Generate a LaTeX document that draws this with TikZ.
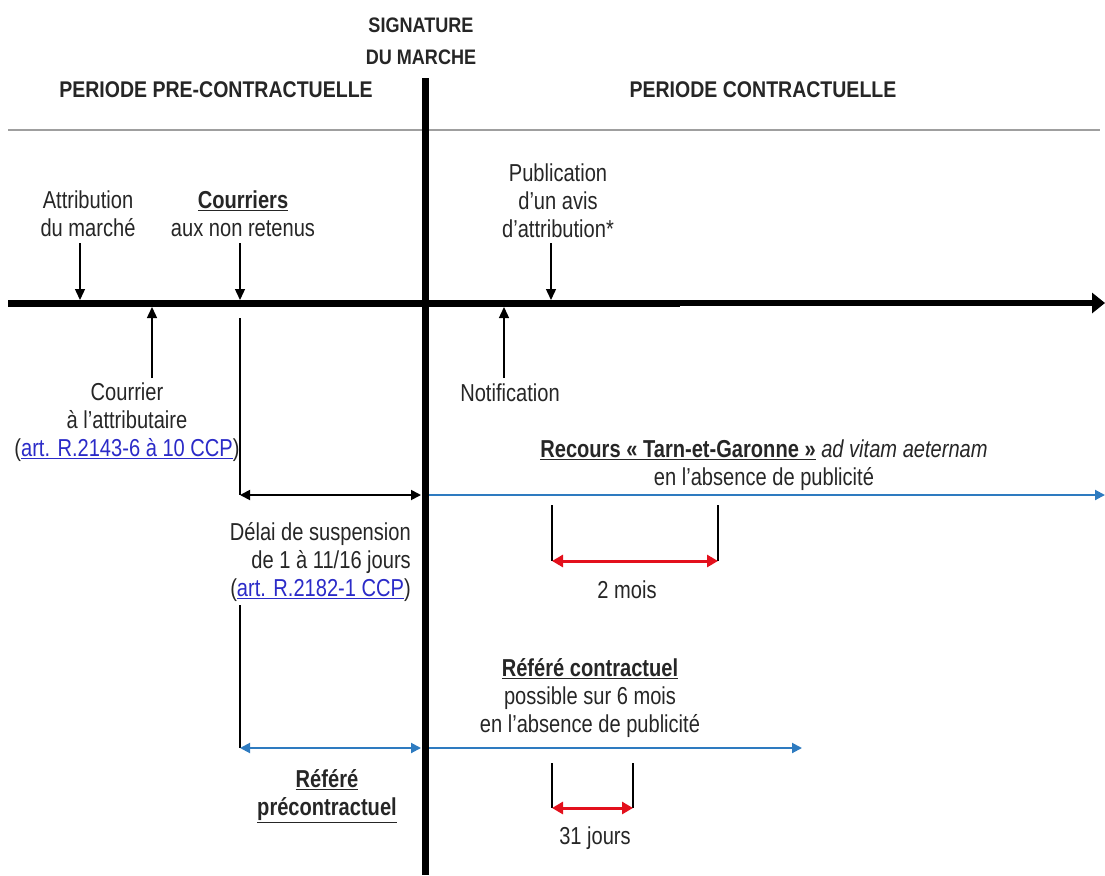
\documentclass[tikz,border=0pt]{standalone}
\usepackage{fontspec}
\setmainfont{Liberation Sans}[FakeStretch=0.82]
\newfontfamily\headfont{Liberation Sans}[FakeStretch=0.86]
\usetikzlibrary{arrows.meta}
\definecolor{linkblue}{HTML}{2B2BC8}
\definecolor{spanblue}{HTML}{2E7BC0}
\definecolor{spanred}{HTML}{E3101C}
\definecolor{ink}{HTML}{262626}
\newcommand{\artref}[1]{(\textcolor{linkblue}{\underline{#1}})}

\begin{document}
\begin{tikzpicture}[x=1pt,y=-1pt,
  lbl/.style={font=\fontsize{24.5}{28}\selectfont, align=center, inner sep=0pt, text=ink},
  head/.style={font=\headfont\bfseries\fontsize{21}{32}\selectfont, align=center, inner sep=0pt, text=ink},
  period/.style={head, font=\headfont\bfseries\fontsize{22.7}{32}\selectfont},
  tick/.style={line width=1.4pt, -{Triangle[length=11pt,width=10pt]}},
  guide/.style={line width=1.4pt},
  blackspan/.style={line width=1.8pt, {Triangle[length=10pt,width=10pt]}-{Triangle[length=10pt,width=10pt]}},
  bluespan/.style={spanblue, line width=2pt, {Triangle[length=10pt,width=10pt]}-{Triangle[length=10pt,width=10pt]}},
  blueray/.style={spanblue, line width=2pt, -{Triangle[length=10pt,width=10pt]}},
  redspan/.style={spanred, line width=3pt, {Triangle[length=11pt,width=12pt]}-{Triangle[length=11pt,width=12pt]}},
]
\useasboundingbox (0,0) rectangle (1105,875);

% headings
\node[head] (sig) at (421,41) {SIGNATURE\\DU MARCHE};
\node[period] (pre) at (216,90) {PERIODE PRE-CONTRACTUELLE};
\node[period] (post) at (763,90) {PERIODE CONTRACTUELLE};

% separator under the headings
\coordinate (sepL) at (8,130);
\coordinate (sepR) at (1100,130);
\draw[gray!75, line width=1.2pt] (sepL) -- (sepR);

% time axis
\coordinate (axL) at (8,303);
\coordinate (axM) at (680,303);
\coordinate (axR) at (1105,303);
\draw[line width=7pt] (axL) -- (axM);
\draw[line width=5.5pt, -{Triangle[length=13pt,width=20pt]}] (axM) -- (axR);

% events above the axis
\node[lbl] (attr) at (88,214) {Attribution\\du marché};
\node[lbl] (cour) at (243,214) {\underline{\textbf{Courriers}}\\aux non retenus};
\node[lbl] (pub) at (558,201) {Publication\\d'un avis\\d'attribution*};
\coordinate (attrT) at (80,243);  \coordinate (attrB) at (80,300);
\coordinate (courT) at (240,243); \coordinate (courB) at (240,300);
\coordinate (pubT) at (551,243);  \coordinate (pubB) at (551,300);
\draw[tick] (attrT) -- (attrB);
\draw[tick] (courT) -- (courB);
\draw[tick] (pubT) -- (pubB);

% events below the axis
\node[lbl] (lettre) at (127,422) {Courrier\\à l'attributaire\\\artref{art. R.2143-6 à 10 CCP}};
\node[lbl] (notif) at (510,393) {Notification};
\coordinate (lettreB) at (152,378); \coordinate (lettreT) at (152,307);
\coordinate (notifB) at (504,378);  \coordinate (notifT) at (504,307);
\draw[tick] (lettreB) -- (lettreT);
\draw[tick] (notifB) -- (notifT);

% standstill period
\coordinate (stA) at (240,318);
\coordinate (stB) at (240,495);
\coordinate (stC) at (421,495);
\draw[guide] (stA) -- (stB);
\draw[blackspan] (stB) -- (stC);
\node[lbl, align=right, anchor=east] (delai) at (411,562) {Délai de suspension\\de 1 à 11/16 jours\\\artref{art. R.2182-1 CCP}};

% Tarn-et-Garonne action
\coordinate (tgL) at (429,495);
\coordinate (tgR) at (1105,495);
\draw[blueray] (tgL) -- (tgR);
\node[lbl] (tg) at (764,465) {\underline{\textbf{Recours « Tarn-et-Garonne »}} \textit{ad vitam aeternam}\\en l'absence de publicité};
\coordinate (m2aT) at (552,505); \coordinate (m2aB) at (552,561);
\coordinate (m2bT) at (718,505); \coordinate (m2bB) at (718,561);
\draw[guide] (m2aT) -- (m2aB);
\draw[guide] (m2bT) -- (m2bB);
\draw[redspan] (m2aB) -- (m2bB);
\node[lbl] (deuxmois) at (627,590) {2 mois};

% pre-contractual summary
\coordinate (pcA) at (240,605);
\coordinate (pcB) at (240,748);
\coordinate (pcC) at (421,748);
\draw[guide] (pcA) -- (pcB);
\draw[bluespan] (pcB) -- (pcC);
\node[lbl] (refpre) at (327,796) {\underline{\textbf{Référé}}\\\underline{\textbf{précontractuel}}};

% contractual summary
\coordinate (rcL) at (429,748);
\coordinate (rcR) at (802,748);
\draw[blueray] (rcL) -- (rcR);
\node[lbl] (refc) at (590,698) {\underline{\textbf{Référé contractuel}}\\possible sur 6 mois\\en l'absence de publicité};
\coordinate (j31aT) at (552,763); \coordinate (j31aB) at (552,808);
\coordinate (j31bT) at (633,763); \coordinate (j31bB) at (633,808);
\draw[guide] (j31aT) -- (j31aB);
\draw[guide] (j31bT) -- (j31bB);
\draw[redspan] (j31aB) -- (j31bB);
\node[lbl] (trenteun) at (595,838) {31 jours};

% signature of the contract
\coordinate (sigT) at (425,78);
\coordinate (sigB) at (425,875);
\draw[line width=7pt] (sigT) -- (sigB);
\end{tikzpicture}
\end{document}
